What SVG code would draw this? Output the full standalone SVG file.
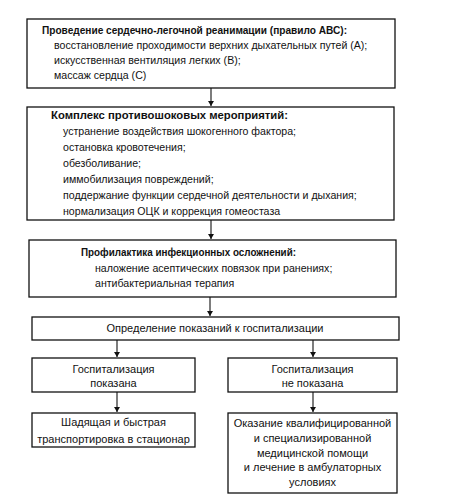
<svg xmlns="http://www.w3.org/2000/svg" width="465" height="497" viewBox="0 0 465 497">
<style>
rect{fill:#fff;stroke:#111;stroke-width:1.3}
text{font-family:"Liberation Sans",Arial,sans-serif;font-size:10.6px;fill:#111}
.b{font-weight:bold}
.c{text-anchor:middle;font-size:11px}
.l{stroke:#111;stroke-width:1.1;fill:none;marker-end:url(#ah)}
</style>
<defs><marker id="ah" markerWidth="6" markerHeight="7" refX="5" refY="3" orient="auto" markerUnits="userSpaceOnUse"><path d="M0,0 L5,3 L0,6 Z" fill="#111"/></marker></defs>
<g id="connectors">
<line class="l" x1="211" y1="88" x2="211" y2="106"/>
<line class="l" x1="211" y1="220" x2="211" y2="239"/>
<line class="l" x1="210" y1="297" x2="210" y2="316"/>
<line class="l" x1="117" y1="340" x2="117" y2="357"/>
<line class="l" x1="313" y1="340" x2="313" y2="357"/>
<line class="l" x1="117" y1="392" x2="117" y2="412"/>
<line class="l" x1="313" y1="392" x2="313" y2="412"/>
</g>
<g id="n1">
<rect x="27" y="19" width="368" height="69"/>
<text class="b" x="42" y="34" textLength="305" lengthAdjust="spacingAndGlyphs">Проведение сердечно-легочной реанимации (правило АВС):</text>
<text x="54" y="49">восстановление проходимости верхних дыхательных путей (А);</text>
<text x="54" y="64">искусственная вентиляция легких (В);</text>
<text x="54" y="79">массаж сердца (С)</text>
</g>
<g id="n2">
<rect x="27" y="107" width="367" height="113"/>
<text class="b" x="51" y="119" textLength="237" lengthAdjust="spacingAndGlyphs">Комплекс противошоковых мероприятий:</text>
<text x="63" y="135">устранение воздействия шокогенного фактора;</text>
<text x="63" y="151">остановка кровотечения;</text>
<text x="63" y="167">обезболивание;</text>
<text x="63" y="183">иммобилизация повреждений;</text>
<text x="63" y="199">поддержание функции сердечной деятельности и дыхания;</text>
<text x="63" y="215">нормализация ОЦК и коррекция гомеостаза</text>
</g>
<g id="n3">
<rect x="29" y="240" width="367" height="57"/>
<text class="b" x="81" y="256" textLength="215" lengthAdjust="spacingAndGlyphs">Профилактика инфекционных осложнений:</text>
<text x="95" y="272">наложение асептических повязок при ранениях;</text>
<text x="95" y="287">антибактериальная терапия</text>
</g>
<g id="n4">
<rect x="32" y="317" width="367" height="23"/>
<text class="c" x="215" y="332">Определение показаний к госпитализации</text>
</g>
<g id="n5">
<rect x="32" y="358" width="163" height="34"/>
<text class="c" x="113.5" y="373">Госпитализация</text>
<text class="c" x="113.5" y="387">показана</text>
</g>
<g id="n6">
<rect x="228" y="358" width="169" height="34"/>
<text class="c" x="312.5" y="373">Госпитализация</text>
<text class="c" x="312.5" y="387">не показана</text>
</g>
<g id="n7">
<rect x="32" y="413" width="163" height="34"/>
<text class="c" x="113.5" y="426">Шадящая и быстрая</text>
<text class="c" x="113.5" y="443">транспортировка в стационар</text>
</g>
<g id="n8">
<rect x="228" y="413" width="169" height="80"/>
<text class="c" x="312.5" y="427">Оказание квалифицированной</text>
<text class="c" x="312.5" y="442">и специализированной</text>
<text class="c" x="312.5" y="457">медицинской помощи</text>
<text class="c" x="312.5" y="471">и лечение в амбулаторных</text>
<text class="c" x="312.5" y="486">условиях</text>
</g>
</svg>
